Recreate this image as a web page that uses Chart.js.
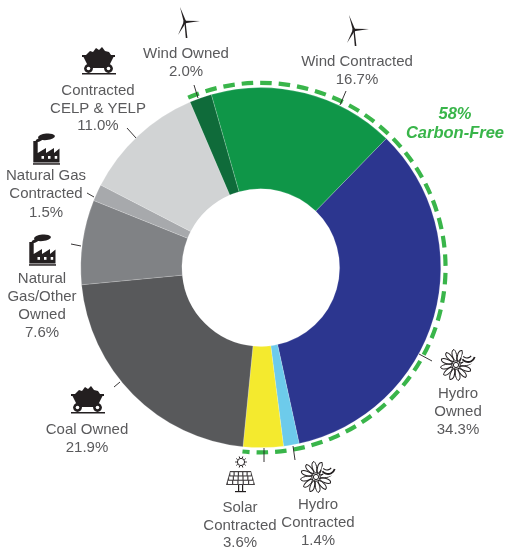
<!DOCTYPE html>
<html><head><meta charset="utf-8">
<style>html,body{margin:0;padding:0;background:#fff}#w{width:508px;height:550px;position:relative}</style>
<script src="https://cdn.jsdelivr.net/npm/chart.js@4/dist/chart.umd.min.js"></script>
</head><body><div id="w"><canvas id="c" width="508" height="550"></canvas></div>
<script>
const categories = ["Hydro Owned","Hydro Contracted","Solar Contracted","Coal Owned","Natural Gas/Other Owned","Natural Gas Contracted","Contracted CELP & YELP","Wind Owned","Wind Contracted"];
const values = [34.3,1.4,3.6,21.9,7.6,1.5,11.0,2.0,16.7];
const colors = ["#2c368f","#6dcbeb","#f4ea2e","#58595b","#808285","#a7a9ac","#d1d3d4","#0f6b3a","#0f9648"];
const carbonFree = ["Wind Owned","Wind Contracted","Hydro Owned","Hydro Contracted","Solar Contracted"];
const TXT="#5a5a5c", INK="#231f20", GREEN="#39b54a";
const FONT='15px "Liberation Sans"';
// annotation layout: text lines, centre x, baselines, leader line, icon
const notes = [
 {i:7,lines:["Wind Owned"],x:186,y:[58,76],lead:[194,85,198,98],icon:["wind",185,22]},
 {i:6,lines:["Contracted","CELP & YELP"],x:98,y:[95,113,130],lead:[127,128,136,138],icon:["coal",82,47]},
 {i:5,lines:["Natural Gas","Contracted"],x:46,y:[180,198,217],lead:[87,193,94,197],icon:["factory",33,134]},
 {i:4,lines:["Natural","Gas/Other","Owned"],x:42,y:[283,301,319,337],lead:[71,244,81,246],icon:["factory",29,235]},
 {i:3,lines:["Coal Owned"],x:87,y:[434,452],lead:[114,387,120,382],icon:["coal",71,386]},
 {i:2,lines:["Solar","Contracted"],x:240,y:[512,530,547],lead:[264,448,264,462],icon:["solar",240,456]},
 {i:1,lines:["Hydro","Contracted"],x:318,y:[509,527,545],lead:[293,446,295,460],icon:["hydro",318,476]},
 {i:0,lines:["Hydro","Owned"],x:458,y:[398,416,434],lead:[419,354,432,361],icon:["hydro",458,364]},
 {i:8,lines:["Wind Contracted"],x:357,y:[66,84],lead:[346,91,340,105],icon:["wind",354,30]}
];
const icons = {
 wind(c){
  c.fillStyle=INK;
  const tri=(a,b,w)=>{const n=Math.hypot(a,b),px=-b/n*w,py=a/n*w;c.beginPath();c.moveTo(px,py);c.lineTo(a,b);c.lineTo(-px,-py);c.closePath();c.fill();};
  tri(-5,-15,1.2);tri(15,-1,1.2);tri(-7,13,1.2);
  c.beginPath();c.moveTo(-.6,0);c.lineTo(.6,0);c.lineTo(2.4,16);c.lineTo(.8,16);c.closePath();c.fill();
  c.beginPath();c.arc(0,0,1.6,0,7);c.fill();
 },
 coal(c){
  c.fillStyle=INK;
  c.beginPath();c.moveTo(4,8);c.lineTo(8,4);c.lineTo(11,5);c.lineTo(14,1);c.lineTo(17,3);c.lineTo(20,0);c.lineTo(23,4);c.lineTo(27,5);c.lineTo(29,8);c.closePath();c.fill();
  c.fillRect(0,8,33,2);
  c.beginPath();c.moveTo(1.5,10);c.lineTo(31.5,10);c.lineTo(26,21);c.lineTo(7,21);c.closePath();c.fill();
  c.fillRect(0,26,34,1.5);
  for(const x of [6.5,26.5]){c.fillStyle=INK;c.beginPath();c.arc(x,21.5,4.4,0,7);c.fill();c.fillStyle="#fff";c.beginPath();c.arc(x,21.5,1.8,0,7);c.fill();}
 },
 factory(c){
  c.fillStyle=INK;
  c.beginPath();c.moveTo(.3,28.5);c.lineTo(.3,7);c.lineTo(4.7,7);c.lineTo(4.7,19);c.lineTo(13,14);c.lineTo(13,19);c.lineTo(21,14);c.lineTo(21,19);c.lineTo(26.5,14.5);c.lineTo(26.5,28.5);c.closePath();c.fill();
  c.fillRect(0,29.2,27,1.5);
  c.beginPath();c.ellipse(13.5,2.8,8.5,3.3,-.1,0,7);c.fill();
  c.beginPath();c.ellipse(6,6,3.5,1.5,-.4,0,7);c.fill();
  c.fillStyle="#fff";for(const x of [8.5,15,21.7])c.fillRect(x,22,2.5,2.8);
 },
 hydro(c){
  c.strokeStyle=INK;c.lineWidth=1;
  for(let a=0;a<12;a++){c.save();c.translate(-2,1);c.rotate(a*2*Math.PI/12);c.beginPath();c.moveTo(3.5,0);c.bezierCurveTo(8,-5,15,-5,15.5,-2);c.bezierCurveTo(14,0,8,2,3.5,0);c.stroke();c.restore();}
  c.beginPath();c.arc(-2,1,2.6,0,7);c.stroke();
  c.fillStyle="#fff";c.beginPath();c.arc(10,-6,6.5,0,7);c.fill();
  c.lineWidth=1.8;c.beginPath();c.arc(10,-9,7,.3,2.5);c.stroke();
  c.lineWidth=1.2;c.beginPath();c.arc(9,-11,5,.6,2.4);c.stroke();
 },
 solar(c){
  c.strokeStyle=INK;c.fillStyle=INK;c.lineWidth=1;
  c.beginPath();c.arc(1,6,3.6,0,7);c.stroke();
  for(let a=0;a<10;a++){const t=a*Math.PI/5;c.beginPath();c.moveTo(1+Math.cos(t)*4.2,6+Math.sin(t)*4.2);c.lineTo(1+Math.cos(t)*5.8,6+Math.sin(t)*5.8);c.stroke();}
  c.globalAlpha=.85;
  c.beginPath();c.moveTo(-10,15);c.lineTo(11,15);c.lineTo(15,29);c.lineTo(-14,29);c.closePath();c.fill();
  c.globalAlpha=1;c.fillStyle="#fff";
  for(let r=0;r<3;r++)for(let k=0;k<5;k++){const y=16.2+r*4.3,t=(y-15)/14,xl=-10-4*t,w=(21+8*t)/5;c.fillRect(xl+k*w+.7,y,w-1.2,3.2);}
  c.fillStyle=INK;c.fillRect(-2,29,1.2,6);c.fillRect(2,29,1.2,6);c.fillRect(-5,35,11,1.2);
 }
};
const annotate = {
 id:"annotate",
 afterDatasetsDraw(chart){
  const c=chart.ctx, arcs=chart.getDatasetMeta(0).data;
  // dashed 58% ring from the library's own arc geometry
  const first=arcs[categories.indexOf(carbonFree[0])], last=arcs[categories.indexOf(carbonFree[carbonFree.length-1])];
  c.save();c.strokeStyle=GREEN;c.lineWidth=4.2;c.setLineDash([11.5,7]);
  c.beginPath();c.arc(first.x,first.y,first.outerRadius+4.8,first.startAngle,last.endAngle+2*Math.PI*(last.endAngle<first.startAngle?1:0));c.stroke();c.restore();
  c.save();c.textAlign="center";c.textBaseline="alphabetic";
  for(const n of notes){
   c.strokeStyle=INK;c.lineWidth=.9;c.beginPath();c.moveTo(n.lead[0],n.lead[1]);c.lineTo(n.lead[2],n.lead[3]);c.stroke();
   c.fillStyle=TXT;c.font=FONT;
   const txt=[...n.lines,values[n.i].toFixed(1)+"%"];
   txt.forEach((t,k)=>c.fillText(t,n.x,n.y[k]));
   c.save();c.translate(n.icon[1],n.icon[2]);icons[n.icon[0]](c);c.restore();
  }
  c.fillStyle=GREEN;c.font='italic bold 16.5px "Liberation Sans"';
  c.fillText("58%",455,119);c.fillText("Carbon-Free",455,138);
  c.restore();
 }
};
new Chart(document.getElementById("c"),{
 type:"doughnut",
 data:{labels:categories,datasets:[{data:values,backgroundColor:colors,borderWidth:.5,borderColor:"rgba(255,255,255,.35)"}]},
 options:{responsive:false,animation:false,cutout:"43.8%",rotation:44.2,
  layout:{padding:{left:80.5,right:67,top:87.2,bottom:102}},
  plugins:{legend:{display:false},tooltip:{enabled:false}},events:[]},
 plugins:[annotate]
});
</script></body></html>
